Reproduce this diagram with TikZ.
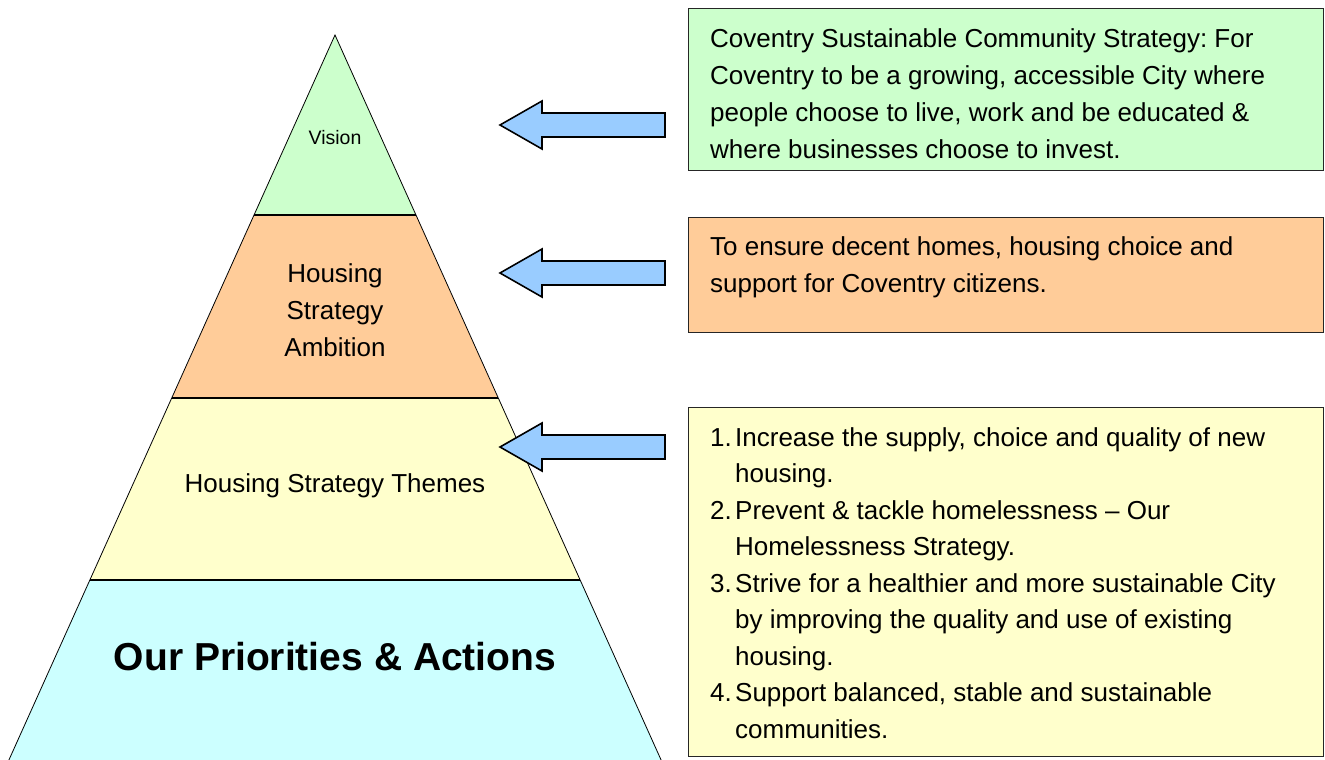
\documentclass[tikz,border=0pt]{standalone}
\usepackage{fontspec}
\setmainfont{Liberation Sans}
\frenchspacing
\begin{document}
\begin{tikzpicture}[x=1pt,y=-1pt,
  lvl/.style={draw=black,line width=0.8pt},
  sep/.style={draw=black,line width=2pt},
  blockarrow/.style={draw=black,line width=1.6pt,fill=arrowblue,line join=miter},
  infobox/.style={draw=black!85,line width=1.4pt,anchor=north west,inner sep=0pt,minimum width=635pt},
  bodytext/.style={anchor=north west,inner sep=0pt,align=left,font=\fontsize{26}{37}\selectfont},
  lbltext/.style={inner sep=0pt,align=center,font=\fontsize{26}{37}\selectfont}]
\definecolor{vgreen}{HTML}{CCFFCC}
\definecolor{aorange}{HTML}{FFCC99}
\definecolor{tyellow}{HTML}{FFFFCC}
\definecolor{pcyan}{HTML}{CCFFFF}
\definecolor{arrowblue}{HTML}{99CCFF}
\useasboundingbox (0,0) rectangle (1325,760);
\fill[white] (0,0) rectangle (1325,760);
% pyramid levels
\fill[vgreen] (335,35) -- (416,215) -- (254,215) -- cycle;
\fill[aorange] (254,215) -- (416,215) -- (498,398) -- (172,398) -- cycle;
\fill[tyellow] (172,398) -- (498,398) -- (580,580) -- (90,580) -- cycle;
\fill[pcyan] (90,580) -- (580,580) -- (662,762) -- (8,762) -- cycle;
\draw[lvl] (8,762) -- (335,35) -- (662,762);
\draw[sep] (254,215) -- (416,215);
\draw[sep] (172,398) -- (498,398);
\draw[sep] (90,580) -- (580,580);
% pyramid labels
\node[inner sep=0pt,font=\fontsize{19.5}{24}\selectfont] (vision) at (335,138) {Vision};
\node[lbltext] (ambition) at (335,310) {Housing\\Strategy\\Ambition};
\node[lbltext] (themes) at (335,486) {Housing Strategy Themes};
\node[inner sep=0pt,font=\fontsize{39}{48}\selectfont\bfseries] (priorities) at (335,657) {Our Priorities \& Actions};
% block arrows
\foreach \c in {125,273,447}{
  \draw[blockarrow] (500,\c) -- (542,\c-24) -- (542,\c-12) -- (665,\c-12) -- (665,\c+12) -- (542,\c+12) -- (542,\c+24) -- cycle;
}
% boxes
\node[infobox,fill=vgreen,minimum height=162pt] (visionbox) at (688,8) {};
\node[infobox,fill=aorange,minimum height=115pt] (ambitionbox) at (688,217) {};
\node[infobox,fill=tyellow,minimum height=349pt] (themesbox) at (688,407) {};
\node[bodytext] (visiontext) at (710,28) {Coventry Sustainable Community Strategy: For\\Coventry to be a growing, accessible City where\\people choose to live, work and be educated \&\\where businesses choose to invest.};
\node[bodytext] (ambitiontext) at (710,236) {To ensure decent homes, housing choice and\\support for Coventry citizens.};
\newcommand{\numitem}[1]{\makebox[25pt][l]{#1}}
\newcommand{\contitem}{\hspace*{25pt}}
\node[bodytext,font=\fontsize{26}{36.5}\selectfont] (themestext) at (710,427) {\numitem{1.}Increase the supply, choice and quality of new\\\contitem housing.\\\numitem{2.}Prevent \& tackle homelessness -- Our\\\contitem Homelessness Strategy.\\\numitem{3.}Strive for a healthier and more sustainable City\\\contitem by improving the quality and use of existing\\\contitem housing.\\\numitem{4.}Support balanced, stable and sustainable\\\contitem communities.};
\end{tikzpicture}
\end{document}
